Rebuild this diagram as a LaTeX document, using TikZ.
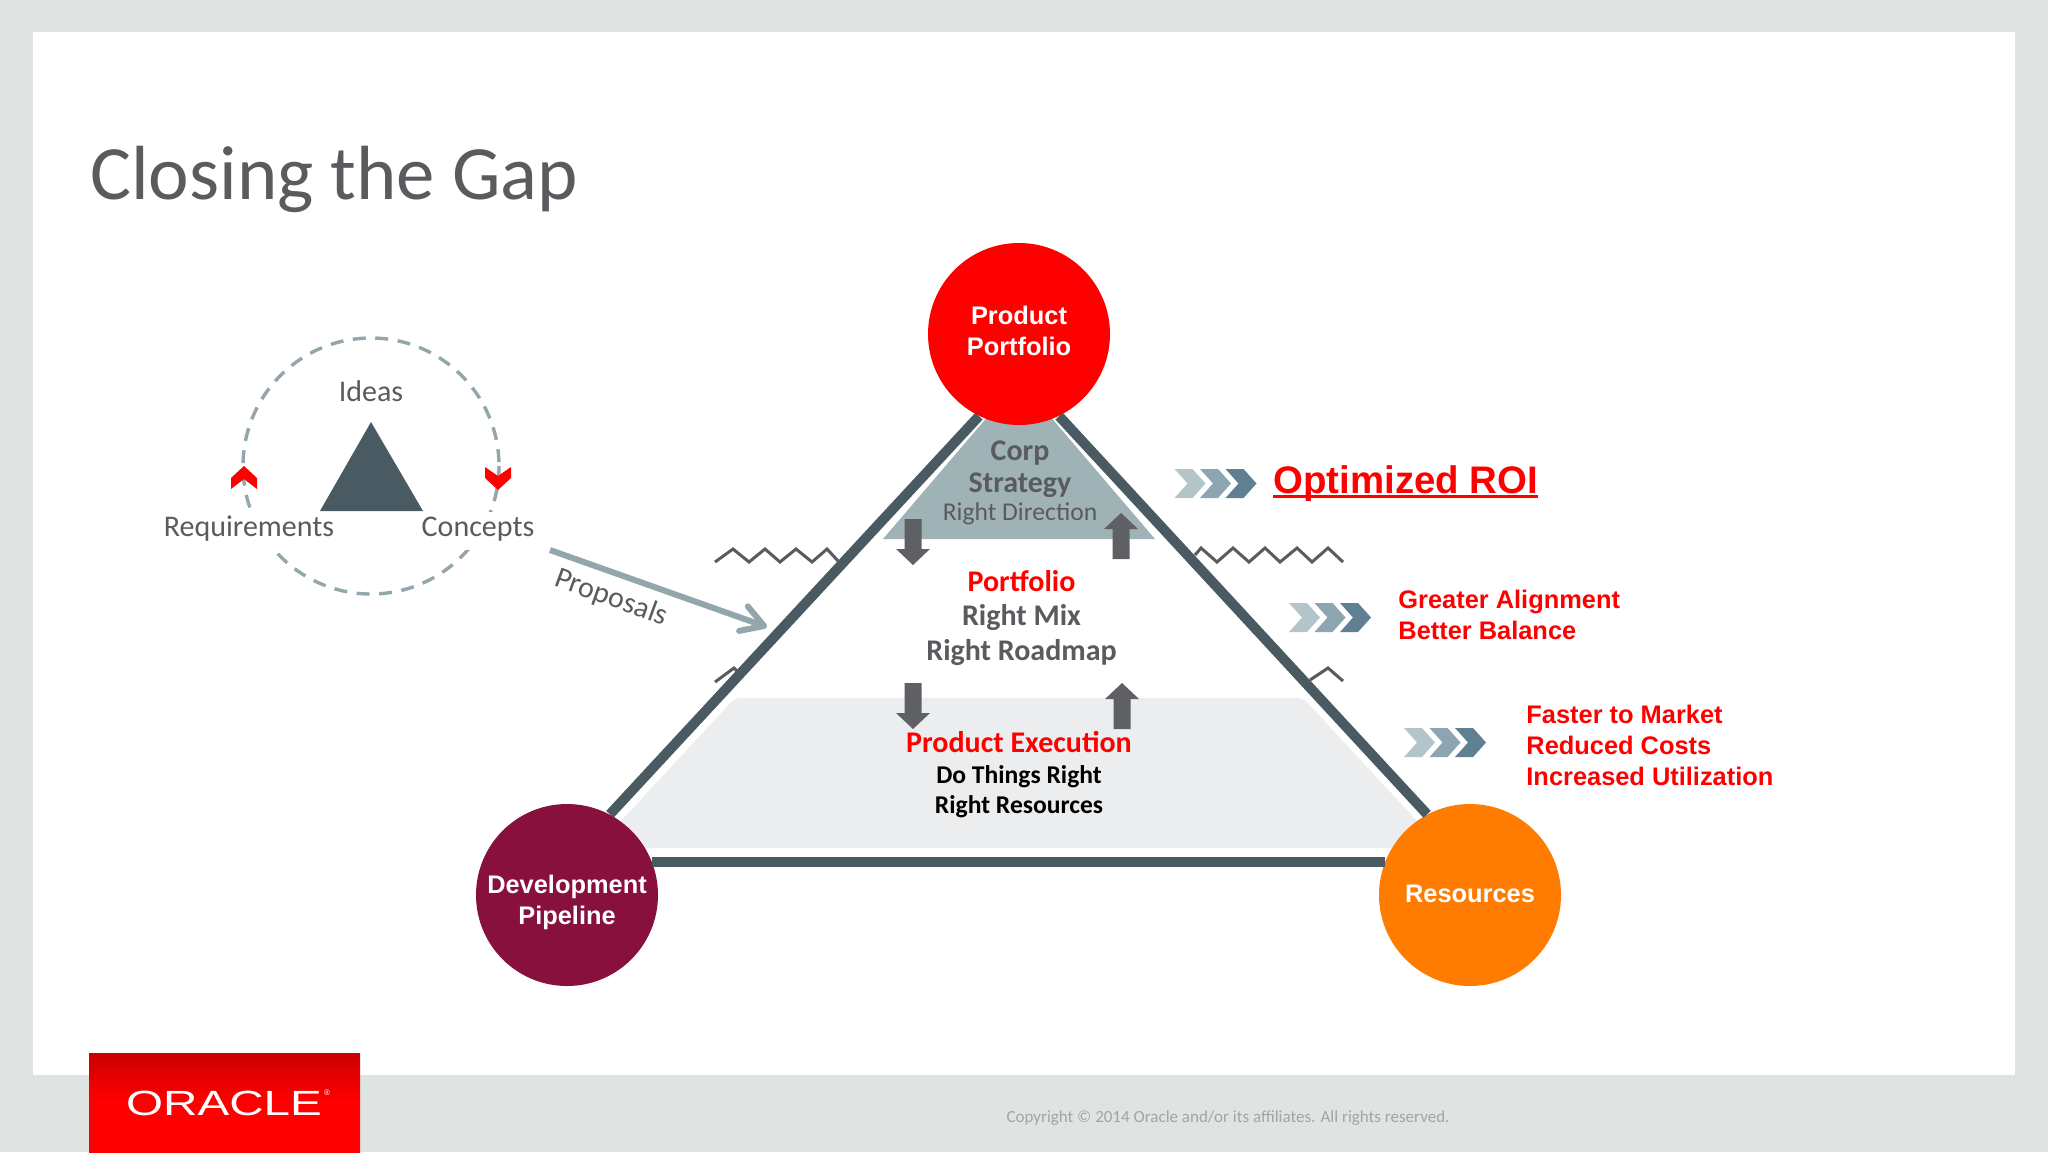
\documentclass[tikz,border=0pt]{standalone}
\usepackage{fontspec}
\usepackage{tikz}
\usetikzlibrary{arrows.meta}
\setmainfont{Carlito}
\newfontfamily\arialfont{Liberation Sans}
\definecolor{slidegrey}{HTML}{DFE4E2}
\definecolor{edgeslate}{HTML}{4A5A62}
\definecolor{mistblue}{HTML}{93A6AB}
\definecolor{labelgrey}{HTML}{595B5E}
\definecolor{arrowgrey}{HTML}{5F6064}
\definecolor{strategyfill}{HTML}{9FB2B6}
\definecolor{execfill}{HTML}{EBEDEE}
\definecolor{wine}{HTML}{87103C}
\definecolor{tangerine}{HTML}{FF7C00}
\definecolor{footgrey}{HTML}{A0A5A6}
\newcommand{\heavyunder}[1]{\sbox0{#1}\rlap{\rule[-2.5pt]{\wd0}{1.5pt}}\usebox0}
\tikzset{
	hub/.style={circle, minimum size=91pt, inner sep=0pt, text=white, align=center,
		font=\arialfont\bfseries\fontsize{12.7}{15.4}\selectfont},
	side/.style={line width=5pt, draw=edgeslate},
	zigzag/.style={line width=1.5pt, draw=labelgrey, line join=miter},
	blockarrow/.style={fill=arrowgrey},
	label/.style={text=labelgrey, font=\fontsize{15}{17}\selectfont},
	gaplabel/.style={label, fill=white, anchor=base, inner sep=0pt, text height=12pt, text depth=7pt},
	boldlabel/.style={label, font=\bfseries\fontsize{15}{17}\selectfont},
	redlabel/.style={text=red, font=\bfseries\fontsize{15}{17}\selectfont},
	benefit/.style={anchor=base west, text=red, align=left, inner sep=0pt,
		font=\arialfont\bfseries\fontsize{12.7}{15.5}\selectfont},
	downblock/.pic={\fill[blockarrow] (-8.5,-46) -- (8.5,-46) -- (8.5,-16) -- (17,-16) -- (0,0) -- (-17,-16) -- (-8.5,-16) -- cycle;},
	chevrons/.pic={
		\foreach \off/\shade in {0/B4C5C9, 25.5/8CA5B0, 51/5F7F93}{
			\definecolor{chev}{HTML}{\shade}
			\fill[chev] (\off,-14.5) -- (\off+18,-14.5) -- (\off+31,0) -- (\off+18,14.5) -- (\off,14.5) -- (\off+13,0) -- cycle;
		}
	}
}
\begin{document}
\begin{tikzpicture}[x=0.5pt, y=-0.5pt]
\useasboundingbox (0, 0) rectangle (2048, 1152);
\fill[slidegrey] (0, 0) rectangle (2048, 1152);
\fill[white] (33, 32) rectangle (2015, 1075);
\node[anchor=base west, inner sep=0pt, text=labelgrey, font=\fontsize{38.4}{44}\selectfont] (title) at (90, 199) {Closing the Gap};

% ideas loop
\draw[line width=1.7pt, draw=mistblue, dash pattern=on 6.5pt off 4.75pt] (371, 466) circle (128);
\fill[edgeslate] (371, 422) -- (423, 511) -- (320, 511) -- cycle;
\fill[red] (244, 466) -- (257, 478) -- (257, 489) -- (244, 479) -- (231, 489) -- (231, 478) -- cycle;
\fill[red] (498, 490) -- (511, 478) -- (511, 467) -- (498, 476) -- (485, 467) -- (485, 478) -- cycle;
\node[label] (ideas) at (371, 391) {Ideas};
\node[gaplabel] (requirements) at (249, 536) {Requirements};
\node[gaplabel] (concepts) at (478, 536) {Concepts};
\coordinate (proposalstart) at (550, 550);
\coordinate (proposalend) at (767, 627);
\draw[-{Straight Barb[length=11pt, width=13pt, round]}, line width=3pt, draw=mistblue] (proposalstart) -- (proposalend);
\node[label, rotate=-20] (proposals) at (611, 598) {Proposals};

% levels of the triangle
\fill[strategyfill] (883, 539) -- (1019, 380) -- (1155, 539) -- cycle;
\fill[execfill, rounded corners=3pt] (596, 848) -- (735, 698) -- (1303, 698) -- (1442, 848) -- cycle;

\node[hub, fill=red, text height=21.5pt] (portfolio) at (1019, 334) {Product\\Portfolio};
\node[hub, fill=wine, text height=32.3pt] (pipeline) at (567, 895) {Development\\Pipeline};
\node[hub, fill=tangerine, text height=7.2pt] (resources) at (1470, 895) {Resources};
\draw[side] (portfolio.244) -- (pipeline.62);
\draw[side] (portfolio.296) -- (resources.118);
\draw[side] (pipeline.21) -- (resources.159);

\draw[zigzag] (715, 562) -- (733, 549) -- (749, 562) -- (765, 549) -- (780, 562) -- (796, 549) -- (812, 562) -- (827, 549) -- (839, 562);
\draw[zigzag] (1195, 555) -- (1201, 548) -- (1217, 562) -- (1233, 548) -- (1249, 562) -- (1265, 548) -- (1280, 562) -- (1297, 548) -- (1312, 562) -- (1328, 548) -- (1343, 562);
\draw[zigzag] (715, 682) -- (734, 668) -- (737, 671);
\draw[zigzag] (1310, 680) -- (1328, 668) -- (1343, 681);

\pic at (913, 565) {downblock};
\pic at (913, 729) {downblock};
\pic[yscale=-1] at (1121, 513) {downblock};
\pic[yscale=-1] at (1122, 683) {downblock};

\node[boldlabel] (corp) at (1020, 453) {Corp};
\node[boldlabel] (strategy) at (1020, 485.5) {Strategy};
\node[label, font=\fontsize{12.8}{15}\selectfont] (direction) at (1020, 514) {Right Direction};
\node[redlabel] (portfoliotitle) at (1021.5, 581) {Portfolio};
\node[boldlabel] (mix) at (1021.5, 618) {Right Mix};
\node[boldlabel] (roadmap) at (1021.5, 652.5) {Right Roadmap};
\node[redlabel] (execution) at (1019, 742) {Product Execution};
\node[boldlabel, text=black, font=\bfseries\fontsize{12.8}{15}\selectfont] (things) at (1019, 777) {Do Things Right};
\node[boldlabel, text=black, font=\bfseries\fontsize{12.8}{15}\selectfont] (rightres) at (1019, 806.5) {Right Resources};

\pic at (1174.5, 483.5) {chevrons};
\pic at (1289, 617.5) {chevrons};
\pic at (1404, 742.5) {chevrons};

\node[benefit, font=\arialfont\bfseries\fontsize{19.2}{22}\selectfont] (roi) at (1273, 493) {\heavyunder{Optimized ROI}};
\node[benefit] (alignment) at (1398, 639) {Greater Alignment\\Better Balance};
\node[benefit] (market) at (1526, 785) {Faster to Market\\Reduced Costs\\Increased Utilization};

% footer
\shade[top color=red!80!black, bottom color=red, middle color=red] (89, 1053) rectangle (360, 1152);
\node[text=white, inner sep=0pt, font=\arialfont\fontsize{17.5}{20}\selectfont, xscale=1.36] (logo) at (224, 1103) {ORACLE};
\node[text=white, inner sep=0pt, font=\arialfont\fontsize{4}{5}\selectfont] (logomark) at (327, 1093) {®};
\node[text=footgrey, font=\fontsize{8.5}{10}\selectfont] (copyright) at (1228, 1118) {Copyright © 2014 Oracle and/or its affiliates. All rights reserved.};
\end{tikzpicture}
\end{document}
